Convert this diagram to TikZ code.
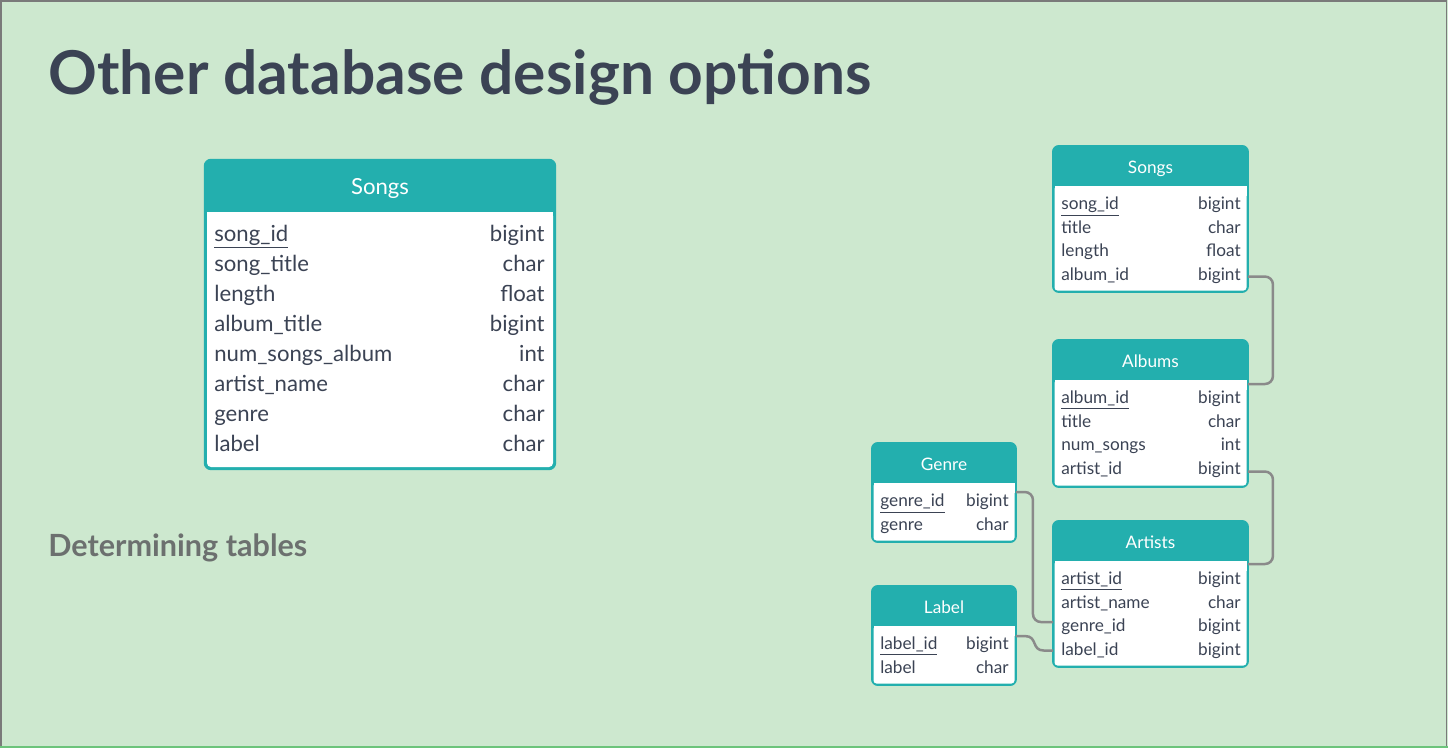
\documentclass[tikz,border=0pt]{standalone}
\usepackage{fontspec}
\setmainfont{Lato}
\usetikzlibrary{calc}

\definecolor{slidebg}{HTML}{CDE8CF}
\definecolor{tealhead}{HTML}{23AFAE}
\definecolor{inktext}{HTML}{3B4354}
\definecolor{linkgray}{HTML}{8A8A8A}
\definecolor{subgray}{HTML}{6C706F}
\definecolor{rulegreen}{HTML}{6CC47B}
\definecolor{edgegray}{HTML}{7A7A7A}

\begin{document}
\begin{tikzpicture}[x=0.02cm, y=-0.02cm,
	tblframe/.style={draw=tealhead, fill=tealhead, line width=0.04cm,
		rounded corners=0.12cm, anchor=north west, inner sep=0pt, outer sep=0pt},
	headtxt/.style={text=white, anchor=base, inner sep=0pt},
	colname/.style={text=inktext, anchor=base west, inner sep=0pt},
	coltype/.style={text=inktext, anchor=base east, inner sep=0pt},
	bigrow/.style={font=\fontsize{12.6}{15}\selectfont},
	smallrow/.style={font=\fontsize{9.8}{12}\selectfont},
	link/.style={draw=linkgray, line width=0.05cm, rounded corners=0.16cm}]
	
	% slide
	\fill[slidebg] (0,0) rectangle (1448,748);
	\useasboundingbox (0,0) rectangle (1448,748);
	\draw[edgegray, line width=0.03cm] (0.8,748) -- (0.8,0.8) -- (1446.5,0.8) -- (1446.5,748);
	\draw[rulegreen, line width=0.05cm] (0,746.8) -- (1448,746.8);
	
	% Titel
	\node[text=inktext, anchor=base west, inner sep=0pt,
		font=\bfseries\fontsize{34.4}{40}\selectfont] (title) at (48,94) {Other database design options};
	\node[text=subgray, anchor=base west, inner sep=0pt,
		font=\bfseries\fontsize{17.4}{20}\selectfont] (subtitle) at (48,556) {Determining tables};
	
	% Songs (eine Tabelle)
	\begin{scope}[shift={(205,160)}]
	\node[tblframe, line width=0.05cm, minimum width=7cm, minimum height=6.18cm] (songsflat) at (0,0) {};
	\fill[white, rounded corners=0.08cm] (2,52) rectangle (348,307);
	\fill[white] (2,52) rectangle (348,62);
	\node[headtxt, bigrow] (songsflat-h) at (175,34) {Songs};
	\foreach \n/\t [count=\i] in {song\_id/bigint, song\_title/char, length/float,
		album\_title/bigint, num\_songs\_album/int, artist\_name/char, genre/char, label/char}
	{
		\node[colname, bigrow] (sf-n\i) at (9,{51+30*\i}) {\ifnum\i=1 \underline{\n}\else\n\fi};
		\node[coltype, bigrow] (sf-t\i) at (340,{51+30*\i}) {\t};
	}
	\end{scope}
	
	% Songs
	\begin{scope}[shift={(1053,146)}]
	\node[tblframe, minimum width=3.9cm, minimum height=2.92cm] (songs) at (0,0) {};
	\fill[white, rounded corners=0.06cm] (1.5,40) rectangle (193.5,144.5);
	\fill[white] (1.5,40) rectangle (193.5,50);
	\node[headtxt, smallrow] (songs-h) at (97.5,27) {Songs};
	\foreach \n/\t [count=\i] in {song\_id/bigint, title/char, length/float, album\_id/bigint}
	{
		\node[colname, smallrow] (sg-n\i) at (8,{40+23.5*\i}) {\ifnum\i=1 \underline{\n}\else\n\fi};
		\node[coltype, smallrow] (sg-t\i) at (188,{40+23.5*\i}) {\t};
	}
	\end{scope}
	
	% Albums
	\begin{scope}[shift={(1053,340)}]
	\node[tblframe, minimum width=3.9cm, minimum height=2.94cm] (albums) at (0,0) {};
	\fill[white, rounded corners=0.06cm] (1.5,40) rectangle (193.5,145.5);
	\fill[white] (1.5,40) rectangle (193.5,50);
	\node[headtxt, smallrow] (albums-h) at (97.5,27) {Albums};
	\foreach \n/\t [count=\i] in {album\_id/bigint, title/char, num\_songs/int, artist\_id/bigint}
	{
		\node[colname, smallrow] (al-n\i) at (8,{40+23.5*\i}) {\ifnum\i=1 \underline{\n}\else\n\fi};
		\node[coltype, smallrow] (al-t\i) at (188,{40+23.5*\i}) {\t};
	}
	\end{scope}
	
	% Artists
	\begin{scope}[shift={(1053,521)}]
	\node[tblframe, minimum width=3.9cm, minimum height=2.92cm] (artists) at (0,0) {};
	\fill[white, rounded corners=0.06cm] (1.5,40) rectangle (193.5,144.5);
	\fill[white] (1.5,40) rectangle (193.5,50);
	\node[headtxt, smallrow] (artists-h) at (97.5,27) {Artists};
	\foreach \n/\t [count=\i] in {artist\_id/bigint, artist\_name/char, genre\_id/bigint, label\_id/bigint}
	{
		\node[colname, smallrow] (ar-n\i) at (8,{40+23.5*\i}) {\ifnum\i=1 \underline{\n}\else\n\fi};
		\node[coltype, smallrow] (ar-t\i) at (188,{40+23.5*\i}) {\t};
	}
	\end{scope}
	
	% Genre
	\begin{scope}[shift={(872,443)}]
	\node[tblframe, minimum width=2.88cm, minimum height=1.98cm] (genre) at (0,0) {};
	\fill[white, rounded corners=0.06cm] (1.5,40) rectangle (142.5,97.5);
	\fill[white] (1.5,40) rectangle (142.5,50);
	\node[headtxt, smallrow] (genre-h) at (72,27) {Genre};
	\foreach \n/\t [count=\i] in {genre\_id/bigint, genre/char}
	{
		\node[colname, smallrow] (ge-n\i) at (8,{40+23.5*\i}) {\ifnum\i=1 \underline{\n}\else\n\fi};
		\node[coltype, smallrow] (ge-t\i) at (137,{40+23.5*\i}) {\t};
	}
	\end{scope}
	
	% Label
	\begin{scope}[shift={(872,586)}]
	\node[tblframe, minimum width=2.88cm, minimum height=1.98cm] (label) at (0,0) {};
	\fill[white, rounded corners=0.06cm] (1.5,40) rectangle (142.5,97.5);
	\fill[white] (1.5,40) rectangle (142.5,50);
	\node[headtxt, smallrow] (label-h) at (72,27) {Label};
	\foreach \n/\t [count=\i] in {label\_id/bigint, label/char}
	{
		\node[colname, smallrow] (la-n\i) at (8,{40+23.5*\i}) {\ifnum\i=1 \underline{\n}\else\n\fi};
		\node[coltype, smallrow] (la-t\i) at (137,{40+23.5*\i}) {\t};
	}
	\end{scope}
	
	% Verbindungen
	\draw[link] ($(sg-t4.mid -| songs.east)+(0,1)$) -- ++(25,0) |- ($(albums.north east)+(0,44)$);
	\draw[link] ($(al-t4.mid -| albums.east)+(0,2)$) -- ++(25,0) |- ($(artists.north east)+(0,43)$);
	\draw[link] ($(ge-t1.mid -| genre.east)+(0,-10)$) -- ++(17,0) |- ($(ar-n3.mid -| artists.west)+(0,-5)$);
	\coordinate (lab-out) at ($(la-t1.mid -| label.east)+(0,-9)$);
	\coordinate (lab-in) at (ar-n4.mid -| artists.west);
	\draw[link, sharp corners] (lab-out) -- ++(9,0)
		.. controls ($(lab-out)+(22,0)$) and ($(lab-in)+(-22,0)$) .. ($(lab-in)+(-9,0)$) -- (lab-in);
	
\end{tikzpicture}
\end{document}
